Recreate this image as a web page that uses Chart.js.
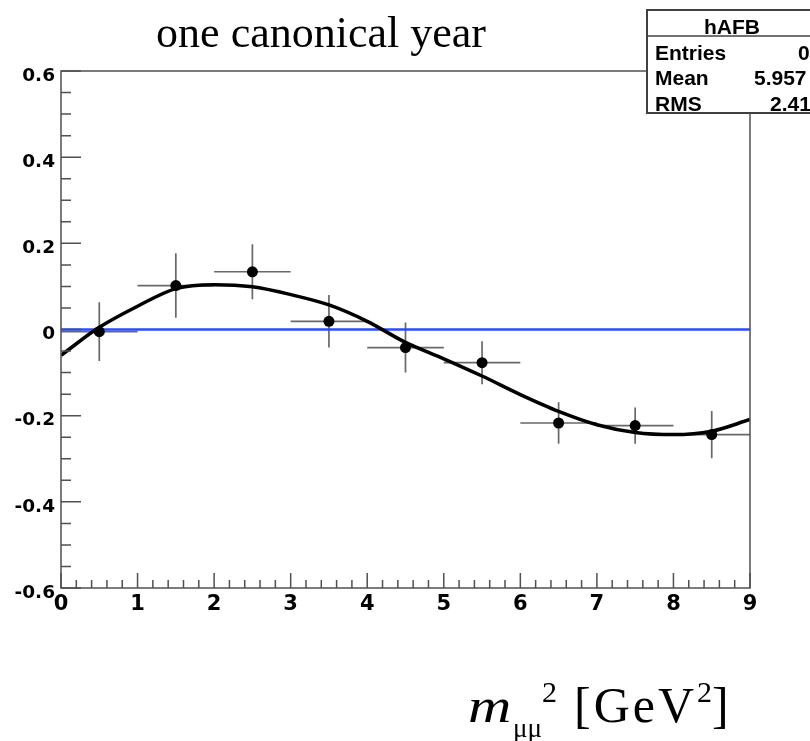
<!DOCTYPE html>
<html>
<head>
<meta charset="utf-8">
<title>hAFB - one canonical year</title>
<script src="https://cdn.jsdelivr.net/npm/chart.js@4.4.1/dist/chart.umd.min.js"></script>
<style>
  html, body { margin: 0; padding: 0; background: #fff; }
  #wrap { width: 810px; height: 741px; }
</style>
</head>
<body>
<div id="wrap"><canvas id="afb" width="810" height="741"></canvas></div>
<script>
// bins of m_mumu^2 [GeV^2] and the measured A_FB per bin
const binCenters = [0.5, 1.5, 2.5, 3.5, 4.5, 5.5, 6.5, 7.5, 8.5];
const binHalfWidths = [0.5, 0.5, 0.5, 0.5, 0.5, 0.5, 0.5, 0.5, 0.5];
const afbValues = [-0.005, 0.102, 0.134, 0.019, -0.042, -0.077, -0.217, -0.223, -0.244];
const afbErrors = [0.068, 0.075, 0.064, 0.061, 0.058, 0.050, 0.048, 0.042, 0.055];

// fitted curve
const fitX = [0, 0.5, 1, 1.5, 2, 2.5, 3, 3.5, 4, 4.5, 5, 5.5, 6, 6.5, 7, 7.5, 8, 8.5, 9];
const fitY = [-0.060, 0.005, 0.054, 0.095, 0.104, 0.099, 0.081, 0.057, 0.019, -0.030, -0.068,
              -0.108, -0.151, -0.190, -0.221, -0.239, -0.244, -0.236, -0.209];

// zero reference line
const zeroX = [0, 9];
const zeroY = [0, 0];

// stats box
const statsName = "hAFB";
const statsLabels = ["Entries", "Mean", "RMS"];
const statsValues = ["0", "5.957", "2.41"];

const titleText = "one canonical year";

const rootStyle = {
  id: "rootStyle",
  beforeDatasetsDraw(chart) {
    const { ctx, scales: { x, y } } = chart;
    ctx.save();
    ctx.strokeStyle = "#686868";
    ctx.lineWidth = 1.7;
    binCenters.forEach((c, i) => {
      const px = x.getPixelForValue(c);
      const py = y.getPixelForValue(afbValues[i]);
      ctx.beginPath();
      ctx.moveTo(x.getPixelForValue(c - binHalfWidths[i]), py);
      ctx.lineTo(x.getPixelForValue(c + binHalfWidths[i]), py);
      ctx.moveTo(px, y.getPixelForValue(afbValues[i] + afbErrors[i]));
      ctx.lineTo(px, y.getPixelForValue(afbValues[i] - afbErrors[i]));
      ctx.stroke();
    });
    ctx.restore();
  },
  afterDraw(chart) {
    const { ctx, chartArea: a, scales: { x, y } } = chart;
    ctx.save();

    // frame
    ctx.strokeStyle = "#505050";
    ctx.lineWidth = 1.5;
    ctx.strokeRect(a.left, a.top, a.right - a.left, a.bottom - a.top);

    // ticks, drawn inwards like ROOT does
    ctx.beginPath();
    for (let k = 0; k <= 24; k++) {
      const py = y.getPixelForValue(-0.6 + k * 0.05);
      const len = k % 4 === 0 ? 20 : 10;
      ctx.moveTo(a.left, py);
      ctx.lineTo(a.left + len, py);
    }
    for (let k = 0; k <= 45; k++) {
      const px = x.getPixelForValue(k * 0.2);
      const len = k % 5 === 0 ? 15 : 8;
      ctx.moveTo(px, a.bottom);
      ctx.lineTo(px, a.bottom - len);
    }
    ctx.stroke();

    // stats box
    ctx.fillStyle = "#fff";
    ctx.fillRect(647, 10, 180, 103);
    ctx.strokeStyle = "#404040";
    ctx.lineWidth = 2;
    ctx.strokeRect(647, 10, 180, 103);
    ctx.beginPath();
    ctx.moveTo(647, 36);
    ctx.lineTo(810, 36);
    ctx.lineWidth = 1.5;
    ctx.stroke();

    ctx.fillStyle = "#000";
    ctx.font = "bold 21px 'Liberation Sans', Arial, sans-serif";
    ctx.textBaseline = "alphabetic";
    ctx.textAlign = "center";
    ctx.fillText(statsName, 732, 34);
    ctx.textAlign = "left";
    const rowBase = [60, 85, 111];
    const valueX = [798, 754, 770];
    statsLabels.forEach((lab, i) => {
      ctx.fillText(lab, 655, rowBase[i]);
      ctx.fillText(statsValues[i], valueX[i], rowBase[i]);
    });

    // title
    ctx.font = "44px 'Liberation Serif', 'Times New Roman', serif";
    ctx.textAlign = "center";
    ctx.fillText(titleText, 321, 47);

    // x axis title: m_{mumu}^2 [GeV^2]
    ctx.textAlign = "left";
    ctx.save();
    ctx.translate(468, 722);
    ctx.scale(1.25, 1);
    ctx.font = "italic 48px 'Liberation Serif', serif";
    ctx.fillText("m", 0, 0);
    ctx.restore();
    ctx.font = "27px 'Liberation Serif', serif";
    ctx.fillText("\u03bc\u03bc", 513, 737);
    ctx.font = "30px 'Liberation Serif', serif";
    ctx.fillText("2", 542, 702);
    ctx.font = "50px 'Liberation Serif', serif";
    ctx.letterSpacing = "3px";
    ctx.fillText("[GeV", 574, 722);
    let cx = 574 + ctx.measureText("[GeV").width;
    ctx.letterSpacing = "0px";
    ctx.font = "30px 'Liberation Serif', serif";
    ctx.fillText("2", cx, 702);
    cx += ctx.measureText("2").width;
    ctx.font = "50px 'Liberation Serif', serif";
    ctx.fillText("]", cx, 722);

    ctx.restore();
  }
};

const tickFont = (size) => ({ family: "'DejaVu Sans', sans-serif", size: size, weight: "bold" });

new Chart(document.getElementById("afb"), {
  type: "scatter",
  data: {
    datasets: [
      {
        label: "A_FB",
        data: binCenters.map((c, i) => ({ x: c, y: afbValues[i] })),
        pointRadius: 5.5,
        pointBackgroundColor: "#000",
        pointBorderWidth: 0,
        showLine: false,
        order: 0
      },
      {
        label: "fit",
        data: fitX.map((v, i) => ({ x: v, y: fitY[i] })),
        showLine: true,
        borderColor: "#000",
        borderWidth: 3.5,
        pointRadius: 0,
        cubicInterpolationMode: "monotone",
        order: 1
      },
      {
        label: "zero",
        data: zeroX.map((v, i) => ({ x: v, y: zeroY[i] })),
        showLine: true,
        borderColor: "#2a4bff",
        borderWidth: 2.5,
        pointRadius: 0,
        order: 2
      }
    ]
  },
  options: {
    responsive: false,
    animation: false,
    devicePixelRatio: 1,
    layout: { padding: { top: 71, right: 60, left: 0, bottom: 0 } },
    plugins: { legend: { display: false }, tooltip: { enabled: false }, title: { display: false } },
    scales: {
      x: {
        type: "linear",
        min: 0,
        max: 9,
        grid: { display: false, drawTicks: false },
        border: { display: false },
        ticks: { stepSize: 1, color: "#000", font: tickFont(21), padding: 4, maxRotation: 0 },
        afterFit(scale) { scale.height = 153; }
      },
      y: {
        type: "linear",
        min: -0.6,
        max: 0.6,
        grid: { display: false, drawTicks: false },
        border: { display: false },
        ticks: { stepSize: 0.2, color: "#000", font: tickFont(18.5), padding: 6, labelOffset: 5 },
        afterFit(scale) { scale.width = 61; }
      }
    }
  },
  plugins: [rootStyle]
});
</script>
</body>
</html>
